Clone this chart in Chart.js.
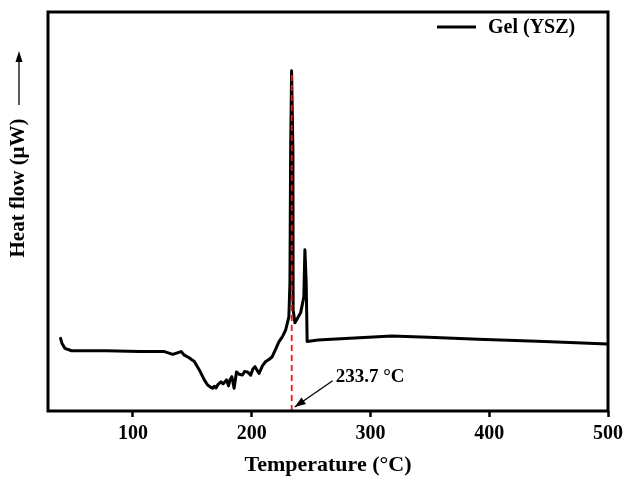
<!DOCTYPE html>
<html><head><meta charset="utf-8">
<script src="https://cdn.jsdelivr.net/npm/chart.js@4"></script>
<style>html,body{margin:0;padding:0;background:#fff}#w{width:628px;height:482px}</style>
</head><body><div id="w"><canvas id="c" width="628" height="482"></canvas></div>
<script>
const temperature = [39.1,40.2,42.7,48.4,77.7,105.6,126.6,133.5,140.6,143.3,147.0,151.7,155.9,160.1,162.9,165.7,167.1,168.5,169.9,171.5,174.1,176.0,178.8,180.5,181.8,183.3,185.2,187.2,189.5,192.2,194.0,196.4,199.2,201.0,202.8,206.2,209.0,211.8,214.5,217.3,220.0,223.0,225.8,228.6,231.3,232.2,232.8,233.6,234.7,234.9,236.4,241.2,243.9,244.8,245.9,246.7,255.9,278.9,317.9,348.7,390.6,446.5,499.6];
const heatFlow = [18.2,17.0,15.7,15.1,15.1,14.9,14.9,14.2,14.9,14.0,13.4,12.4,10.3,7.8,6.5,5.9,5.7,6.2,5.8,6.6,7.3,6.8,7.8,6.3,7.9,8.6,5.7,9.8,9.2,9.0,9.9,9.8,9.0,10.5,11.1,9.4,11.3,12.4,12.9,13.6,15.4,17.4,18.6,20.3,23.6,32.1,65.4,85.3,65.4,25.3,22.1,24.6,28.6,40.4,32.1,17.4,17.8,18.2,18.8,18.5,18.0,17.4,16.8];
const xTicks = [100,200,300,400,500];
const peakT = 233.7;
const peakTop = 85.3;
const seriesName = 'Gel (YSZ)';
const peakLabel = '233.7 °C';
const xTitle = 'Temperature (°C)';
const yTitle = 'Heat flow (μW)';

const FONT = '"Liberation Serif", "Times New Roman", serif';

const deco = {
  id: 'deco',
  afterDraw(chart) {
    const {ctx, chartArea: a, scales: {x, y}} = chart;
    ctx.save();
    ctx.strokeStyle = '#000'; ctx.lineWidth = 3;
    ctx.strokeRect(a.left, a.top, a.right - a.left, a.bottom - a.top);
    // legend
    ctx.lineWidth = 3; ctx.beginPath();
    ctx.moveTo(437, 27); ctx.lineTo(476, 27); ctx.stroke();
    ctx.fillStyle = '#000';
    ctx.font = 'bold 20px ' + FONT;
    ctx.textBaseline = 'middle'; ctx.textAlign = 'left';
    ctx.fillText(seriesName, 488, 28);
    // annotation text + arrow
    const tx = x.getPixelForValue(270.7), ty = y.getPixelForValue(8.6);
    ctx.font = 'bold 19px ' + FONT;
    ctx.fillText(peakLabel, tx, ty);
    const hx = x.getPixelForValue(peakT) + 3, hy = y.getPixelForValue(0) - 4;
    const sx = tx - 3, sy = ty + 4;
    ctx.lineWidth = 1.3; ctx.beginPath(); ctx.moveTo(sx, sy); ctx.lineTo(hx, hy); ctx.stroke();
    const ang = Math.atan2(hy - sy, hx - sx);
    ctx.beginPath();
    ctx.moveTo(hx, hy);
    ctx.lineTo(hx - 11*Math.cos(ang) + 4*Math.sin(ang), hy - 11*Math.sin(ang) - 4*Math.cos(ang));
    ctx.lineTo(hx - 11*Math.cos(ang) - 4*Math.sin(ang), hy - 11*Math.sin(ang) + 4*Math.cos(ang));
    ctx.closePath(); ctx.fill();
    // y title + arrow
    ctx.translate(19, 188); ctx.rotate(-Math.PI/2);
    ctx.font = 'bold 21px ' + FONT; ctx.textAlign = 'center';
    ctx.fillText(yTitle, 0, 0);
    ctx.setTransform(1,0,0,1,0,0);
    ctx.lineWidth = 1.3; ctx.beginPath(); ctx.moveTo(19, 105); ctx.lineTo(19, 60); ctx.stroke();
    ctx.beginPath(); ctx.moveTo(19, 51); ctx.lineTo(15.5, 62); ctx.lineTo(22.5, 62); ctx.closePath(); ctx.fill();
    ctx.restore();
  }
};

new Chart(document.getElementById('c'), {
  type: 'line',
  data: {
    datasets: [
      { data: [{x: peakT, y: 0}, {x: peakT, y: peakTop}], borderColor: '#ff1010', borderWidth: 1.8, borderDash: [6, 4], pointRadius: 0, tension: 0, order: 0 },
      { label: seriesName, data: temperature.map((t, i) => ({x: t, y: heatFlow[i]})), borderColor: '#000', borderWidth: 3, pointRadius: 0, tension: 0, borderJoinStyle: 'round', borderCapStyle: 'round', order: 1 }
    ]
  },
  options: {
    responsive: false, animation: false, devicePixelRatio: 1,
    layout: { padding: { left: 48, right: 18, top: 12, bottom: 0 } },
    plugins: { legend: { display: false }, tooltip: { enabled: false } },
    scales: {
      x: {
        type: 'linear', min: 28.5, max: 500,
        afterBuildTicks: s => { s.ticks = xTicks.map(v => ({value: v})); },
        afterFit: s => { s.height = 71; },
        grid: { drawOnChartArea: false, drawTicks: true, tickLength: 6, tickWidth: 2.5, tickColor: '#000', color: '#000' },
        border: { display: false },
        ticks: { color: '#000', padding: 5, maxRotation: 0, font: { family: FONT, size: 20, weight: 'bold' } },
        title: { display: true, text: xTitle, color: '#000', padding: { top: 0, bottom: 3 }, font: { family: FONT, size: 22, weight: 'bold' } }
      },
      y: { display: false, min: 0, max: 100 }
    }
  },
  plugins: [deco]
});
</script>
</body></html>
